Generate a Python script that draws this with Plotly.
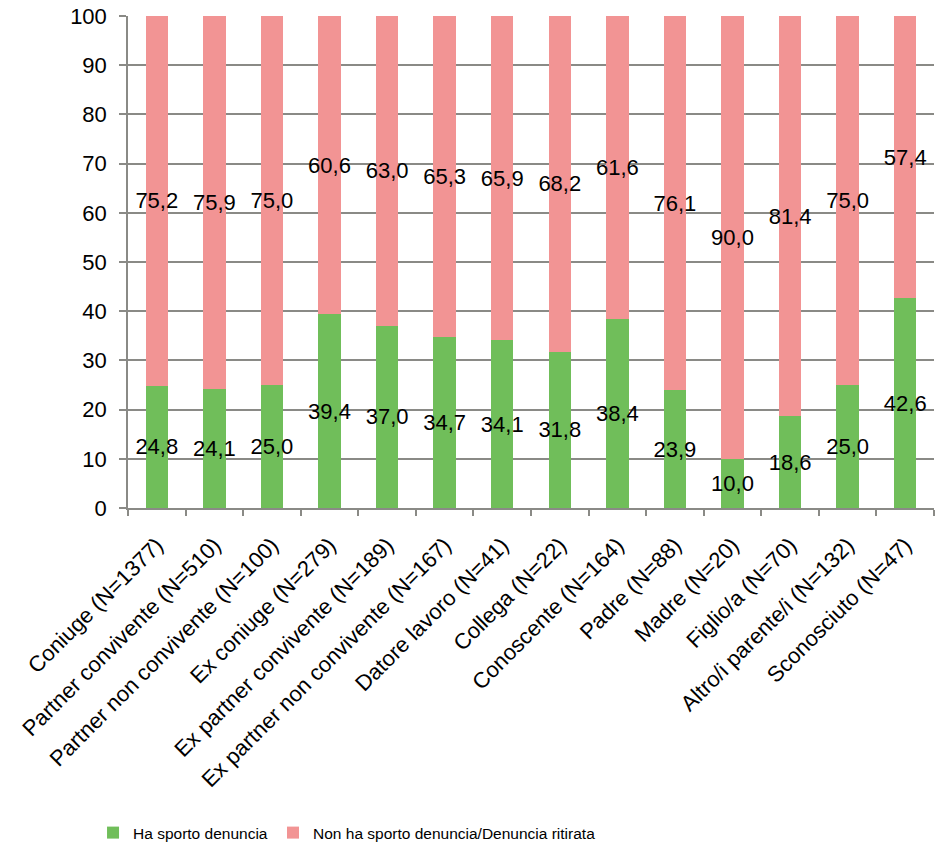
import plotly.graph_objects as go

categories = [
    "Coniuge (N=1377)", "Partner convivente (N=510)", "Partner non convivente (N=100)",
    "Ex coniuge (N=279)", "Ex partner convivente (N=189)", "Ex partner non convivente (N=167)",
    "Datore lavoro (N=41)", "Collega (N=22)", "Conoscente (N=164)", "Padre (N=88)",
    "Madre (N=20)", "Figlio/a (N=70)", "Altro/i parente/i (N=132)", "Sconosciuto (N=47)",
]
ha_sporto = [24.8, 24.1, 25.0, 39.4, 37.0, 34.7, 34.1, 31.8, 38.4, 23.9, 10.0, 18.6, 25.0, 42.6]
non_ha_sporto = [75.2, 75.9, 75.0, 60.6, 63.0, 65.3, 65.9, 68.2, 61.6, 76.1, 90.0, 81.4, 75.0, 57.4]
y_ticks = list(range(0, 101, 10))

GREEN = "#70BE5A"
PINK = "#F29494"
GRID = "#8A8A86"
FONT = "Liberation Sans, Arial, sans-serif"

fig = go.Figure()
for name, vals, col, leg in [
    ("Ha sporto denuncia", ha_sporto, GREEN, "legend"),
    ("Non ha sporto denuncia/Denuncia ritirata", non_ha_sporto, PINK, "legend2"),
]:
    fig.add_trace(go.Bar(
        x=categories, y=vals, name=name, legend=leg,
        marker=dict(color=col, line=dict(width=0)),
        texttemplate="%{y:.1f}", textposition="inside",
        insidetextanchor="middle", textangle=0, constraintext="none",
        textfont=dict(family=FONT, size=22, color="black"),
        cliponaxis=False,
    ))

legend_common = dict(
    orientation="h", xref="container", xanchor="left",
    yref="container", y=0.013, yanchor="middle",
    font=dict(family=FONT, size=15.5), itemwidth=30,
    bgcolor="rgba(0,0,0,0)",
)

fig.update_layout(
    barmode="stack", bargap=0.61,
    separators=",.",
    width=935, height=844,
    margin=dict(l=128, r=1, t=16, b=336),
    plot_bgcolor="white", paper_bgcolor="white",
    font=dict(family=FONT, size=20, color="black"),
    showlegend=True,
    legend=dict(x=0.0995, **legend_common),
    legend2=dict(x=0.292, **legend_common),
)
fig.update_yaxes(
    range=[0, 100], tickvals=y_ticks, showgrid=True, gridcolor=GRID, gridwidth=1.5,
    showline=True, linecolor=GRID, linewidth=1.5,
    ticks="outside", ticklen=7, tickcolor=GRID, tickwidth=1.5,
    tickfont=dict(size=22), ticklabelstandoff=8, zeroline=False,
)
fig.update_xaxes(
    tickangle=-45, tickson="boundaries", ticks="outside", ticklen=6,
    tickcolor=GRID, tickwidth=1.5, showline=True, linecolor=GRID, linewidth=1.5,
    tickfont=dict(size=22), ticklabelstandoff=14,
)

fig.write_html("out.html")
